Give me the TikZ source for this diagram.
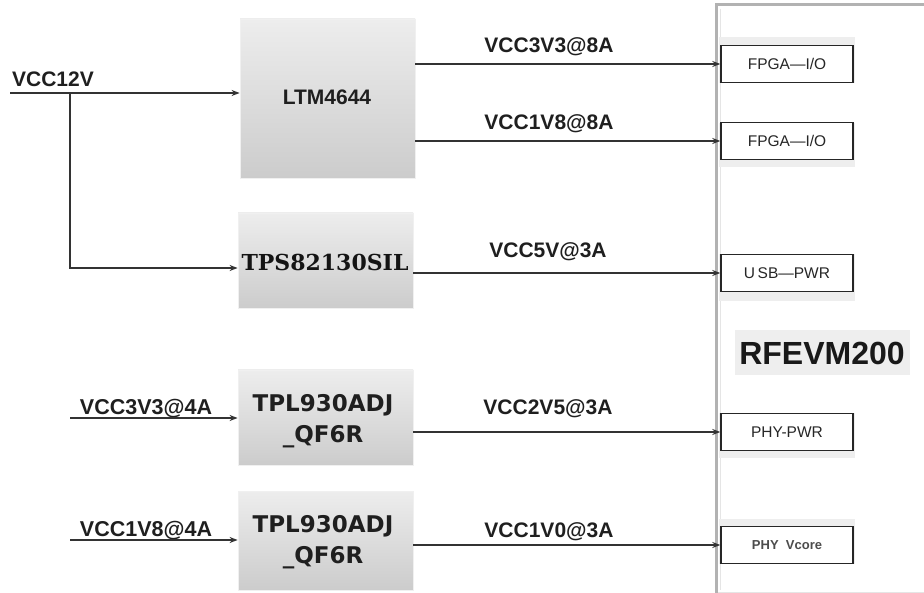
\documentclass[tikz,border=0pt]{standalone}
\usepackage{fontspec}
\setmainfont{Liberation Sans}
\newfontfamily\dvsans{DejaVu Sans}
\newfontfamily\dvserif{DejaVu Serif}
\usetikzlibrary{arrows.meta}
\begin{document}
\begin{tikzpicture}[x=1pt,y=-1pt,
  chip/.style={inner sep=0pt, top color=gray!14, bottom color=gray!40, draw=gray!12, line width=0.8pt},
  sink/.style={draw=black!85, line width=1.4pt, fill=white, minimum width=132pt, minimum height=37pt, inner sep=0pt, font=\fontsize{15.5}{15}\selectfont, text=black!85},
  shadowbg/.style={fill=gray!13, draw=none},
  lab/.style={anchor=base, inner sep=0pt, font=\fontsize{21}{20}\selectfont\bfseries, text=black!88},
  wire/.style={line width=1.6pt, draw=black!80},
  arr/.style={wire, -{Stealth[length=8pt,width=6pt]}}]
\useasboundingbox (0,0) rectangle (924,593);
\fill[white] (0,0) rectangle (924,593);
% right panel
\draw[gray!20, line width=1pt] (720,9) -- (720,590);
\draw[gray!60, line width=3pt] (716,593) -- (716,5) -- (930,5);
\draw[gray!20, line width=1pt] (718,592) -- (930,592);
% shadow backgrounds
\fill[shadowbg] (719,37) rectangle (855,83);
\fill[shadowbg] (719,123) rectangle (855,167);
\fill[shadowbg] (719,254) rectangle (855,301);
\fill[shadowbg] (719,413) rectangle (855,458);
\fill[shadowbg] (719,519) rectangle (855,564);
\fill[shadowbg] (735,330) rectangle (910,375);
% sink boxes
\node[sink] (f1) at (787,64) {FPGA—I/O};
\node[sink] (f2) at (787,141) {FPGA—I/O};
\node[sink] (usb) at (787,273) {U\,SB—PWR};
\node[sink] (phy) at (787,432) {PHY-PWR};
\node[sink, font=\fontsize{13}{13}\selectfont\bfseries, text=black!70] (vc) at (787,545) {PHY\ \ Vcore};
\node[inner sep=0pt, font=\fontsize{32}{32}\selectfont\bfseries, text=black!90] (rf) at (822,353) {RFEVM200};
% chips
\node[chip, minimum width=175pt, minimum height=159pt] (ltm) at (327.5,98.5) {};
\node[font=\fontsize{21}{21}\selectfont\bfseries, text=black!88] at (327,97) {LTM4644};
\node[chip, minimum width=175pt, minimum height=95pt] (tps) at (325.5,260.5) {};
\node[font=\dvserif\fontsize{22}{22}\selectfont\bfseries, text=black!92] at (325,262) {TPS82130SIL};
\node[chip, minimum width=175pt, minimum height=95pt] (tpl1) at (325.5,417.5) {};
\node[font=\dvsans\fontsize{23}{31}\selectfont\bfseries, text=black!88, align=center] at (323,421) {TPL930ADJ\\\_QF6R};
\node[chip, minimum width=175pt, minimum height=99pt] (tpl2) at (325.5,540.5) {};
\node[font=\dvsans\fontsize{23}{31}\selectfont\bfseries, text=black!88, align=center] at (323,542) {TPL930ADJ\\\_QF6R};
% inputs
\coordinate (in12) at (10,93);
\coordinate (br) at (70,93);
\coordinate (in33) at (70,418);
\coordinate (in18) at (70,540);
\node[lab] (l12) at (53,87) {VCC12V};
\draw[arr] (in12) -- (ltm.west |- in12);
\draw[arr] (br) |- (tps.west |- 0,268);
\node[lab, font=\fontsize{21.5}{20}\selectfont\bfseries] (l33in) at (146,415) {VCC3V3@4A};
\draw[arr] (in33) -- (tpl1.west |- in33);
\node[lab, font=\fontsize{21.5}{20}\selectfont\bfseries] (l18in) at (146,536) {VCC1V8@4A};
\draw[arr] (in18) -- (tpl2.west |- in18);
% outputs
\draw[arr] (ltm.east |- f1) -- (f1.west);
\node[lab] (o1) at (549,53) {VCC3V3@8A};
\draw[arr] (ltm.east |- f2) -- (f2.west);
\node[lab] (o2) at (549,130) {VCC1V8@8A};
\draw[arr] (tps.east |- usb) -- (usb.west);
\node[lab] (o3) at (548,258) {VCC5V@3A};
\draw[arr] (tpl1.east |- phy) -- (phy.west);
\node[lab] (o4) at (548,415) {VCC2V5@3A};
\draw[arr] (tpl2.east |- vc) -- (vc.west);
\node[lab] (o5) at (549,537) {VCC1V0@3A};
\end{tikzpicture}
\end{document}
